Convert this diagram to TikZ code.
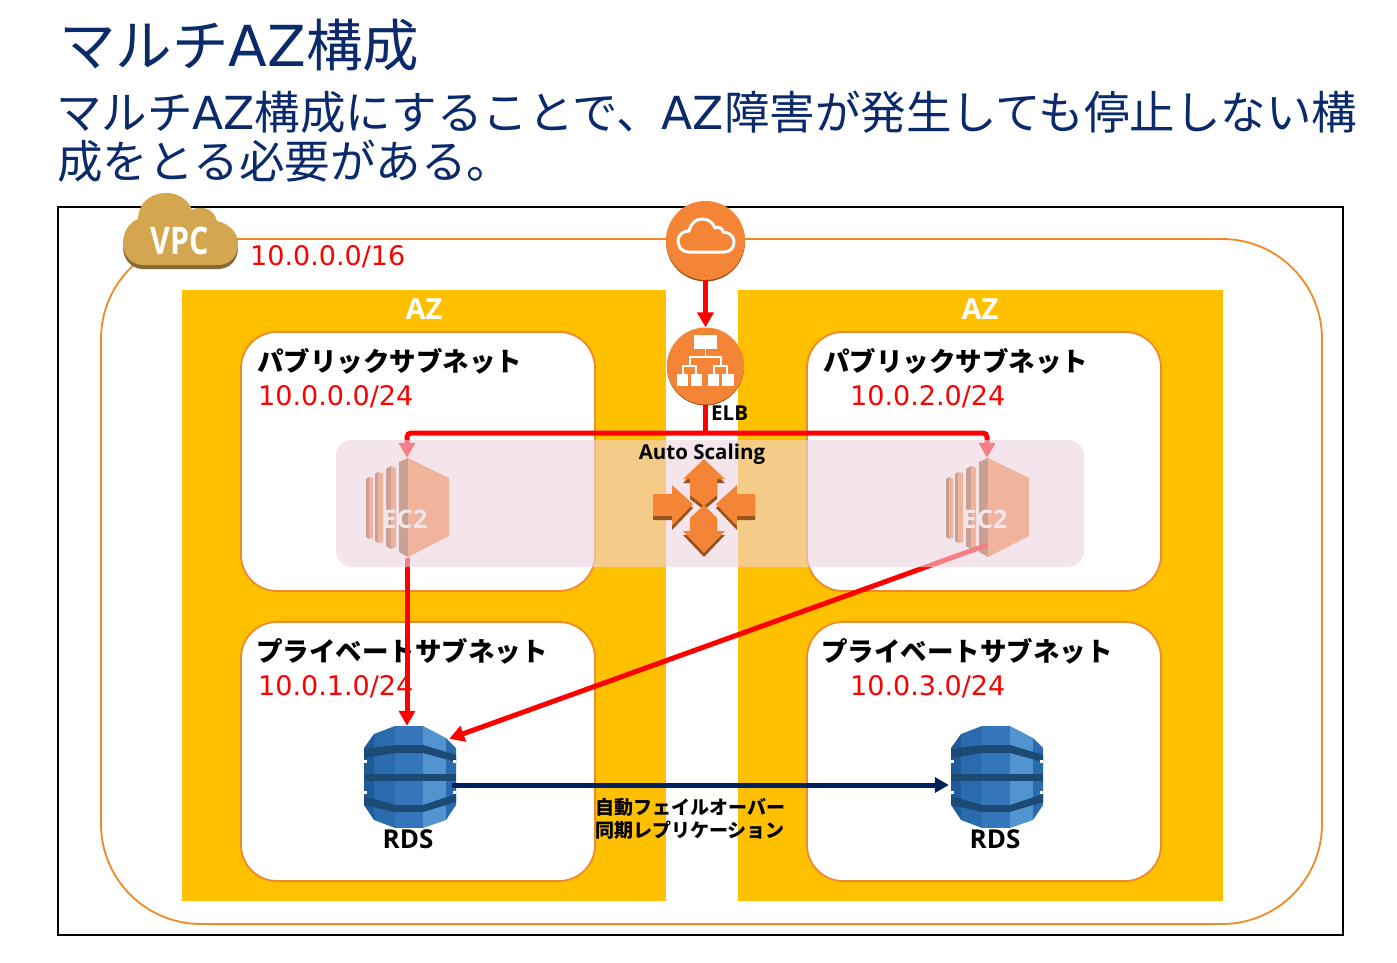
\documentclass[tikz,border=0pt]{standalone}
\usepackage{fontspec}
\setmainfont{Noto Sans CJK JP}
\newfontfamily\latinf{DejaVu Sans}
\newfontfamily\boldf{Open Sans}
\usepackage{tikz}
\usetikzlibrary{calc,arrows.meta}

\definecolor{navy}{HTML}{0B2A6B}
\definecolor{replnavy}{HTML}{002060}
\definecolor{azyellow}{HTML}{FFC000}
\definecolor{vpcline}{HTML}{F08A24}
\definecolor{subline}{HTML}{EE8A2E}
\definecolor{awsorange}{HTML}{F58536}
\definecolor{awsdark}{HTML}{93521E}
\definecolor{asgpink}{RGB}{237,212,225}
\definecolor{vpcgold}{HTML}{D4A64F}
\definecolor{vpcdark}{HTML}{876A38}
\definecolor{rdsa}{HTML}{1F5B98}
\definecolor{rdsb}{HTML}{2A6BAE}
\definecolor{rdsc}{HTML}{3576BB}
\definecolor{rdsd}{HTML}{5294CF}
\definecolor{rdsband}{HTML}{1B4A74}

\tikzset{
  textlabel/.style={inner sep=0pt,anchor=base west},
  redaddr/.style={textlabel,text=red,font=\fontsize{27}{27}\selectfont\latinf},
  subname/.style={textlabel,font=\fontsize{26.5}{26.5}\selectfont\bfseries},
  azname/.style={inner sep=0pt,text=white,font=\fontsize{29}{29}\selectfont\boldf\bfseries},
  iconname/.style={inner sep=0pt,font=\fontsize{26}{26}\selectfont\boldf\bfseries},
  smallname/.style={inner sep=0pt,font=\fontsize{20.5}{20.5}\selectfont\boldf\bfseries},
  subnet/.style={draw=subline,line width=1.8pt,fill=white,rounded corners=36pt},
  iconbox/.style={inner sep=0pt,minimum width=90pt,minimum height=102pt},
  ecbox/.style={inner sep=0pt,minimum width=84pt,minimum height=100pt},
  roundicon/.style={circle,inner sep=0pt,fill=awsorange},
  redline/.style={draw=red,line width=5pt},
  redarrow/.style={redline,-{Triangle[length=15pt,width=16pt]}},
  replarrow/.style={draw=replnavy,line width=5pt,-{Triangle[length=14pt,width=15pt]}},
}

% EC2 icon, #1 = shift in x
\newcommand{\ecicon}[1]{
  \begin{scope}[shift={(#1,0)}]
    \fill[awsdark] (366,479) -- (369,477) -- (369,539) -- (366,537) -- cycle;
    \fill[awsorange] (369,477) -- (373,478) -- (373,538) -- (369,539) -- cycle;
    \fill[awsdark] (375,474) -- (378,472) -- (378,543) -- (375,541) -- cycle;
    \fill[awsorange] (378,472) -- (383,473) -- (383,542) -- (378,543) -- cycle;
    \fill[awsdark] (386,469) -- (391,466) -- (391,549) -- (386,546) -- cycle;
    \fill[awsorange] (391,466) -- (396,468) -- (396,547) -- (391,549) -- cycle;
    \fill[awsdark] (399,462) -- (408,458) -- (408,557) -- (399,552) -- cycle;
    \fill[awsorange] (408,458) -- (449,478) -- (449,536) -- (408,557) -- cycle;
  \end{scope}
}

% RDS icon, #1 = shift in x
\newcommand{\rdsicon}[1]{
  \begin{scope}[shift={(#1,0)}]
    \fill[rdsa] (364,748) -- (374,734) -- (374,820) -- (364,805) -- cycle;
    \fill[rdsb] (374,734) -- (395,726) -- (395,828) -- (374,820) -- cycle;
    \fill[rdsc] (395,726) -- (423,726) -- (423,828) -- (395,828) -- cycle;
    \fill[rdsd] (423,726) -- (446,738) -- (446,820) -- (423,828) -- cycle;
    \fill[rdsb] (446,738) -- (456,748) -- (456,805) -- (446,820) -- cycle;
    % Bands
    \fill[rdsband] (364,749) -- (395,745) -- (423,745) -- (456,755) -- (456,762) -- (423,753) -- (395,753) -- (364,758) -- cycle;
    \fill[rdsband] (364,774) -- (456,774) -- (456,781) -- (364,781) -- cycle;
    \fill[rdsband] (364,796) -- (395,805) -- (423,805) -- (456,794) -- (456,802) -- (423,812) -- (395,812) -- (364,805) -- cycle;
    \fill[white] (364,760) rectangle (367,763);
    \fill[white] (453,760) rectangle (456,763);
    \fill[white] (364,791) rectangle (367,794);
    \fill[white] (453,791) rectangle (456,794);
  \end{scope}
}

\begin{document}
\begin{tikzpicture}[x=1pt,y=-1pt]
  \useasboundingbox (0,0) rectangle (1397,963);
  \fill[white] (0,0) rectangle (1397,963);

  % Titles
  \node[textlabel,text=navy,font=\fontsize{56.5}{56.5}\selectfont] (title) at (59,67) {マルチ{\latinf AZ}構成};
  \node[textlabel,text=navy,font=\fontsize{45.5}{45.5}\selectfont] (lineone) at (56,129) {マルチ{\latinf AZ}構成にすることで、{\latinf AZ}障害が発生しても停止しない構};
  \node[textlabel,text=navy,font=\fontsize{45.5}{45.5}\selectfont] (linetwo) at (57,178) {成をとる必要がある。};

  % Frames
  \draw[black,line width=1.6pt] (58,207) rectangle (1343,935);
  \draw[vpcline,line width=1.8pt,fill=white,rounded corners=100pt] (101,239) rectangle (1322,924);

  % AZs
  \fill[azyellow] (182,290) rectangle (666,901);
  \fill[azyellow] (738,290) rectangle (1223,901);
  \node[azname] (azleft) at (424,309) {AZ};
  \node[azname] (azright) at (980,309) {AZ};

  % Subnets
  \draw[subnet] (241,332) rectangle (595,591);
  \draw[subnet] (807,332) rectangle (1161,591);
  \draw[subnet] (241,622) rectangle (595,881);
  \draw[subnet] (807,622) rectangle (1161,881);
  \node[subname] (puba) at (257,371) {パブリックサブネット};
  \node[subname] (pubb) at (823,371) {パブリックサブネット};
  \node[subname] (pria) at (256,661) {プライベートサブネット};
  \node[subname] (prib) at (821,661) {プライベートサブネット};
  \node[redaddr] (addrvpc) at (250,265) {10.0.0.0/16};
  \node[redaddr] (addrpuba) at (258,405) {10.0.0.0/24};
  \node[redaddr] (addrpubb) at (850,405) {10.0.2.0/24};
  \node[redaddr] (addrpria) at (258,695) {10.0.1.0/24};
  \node[redaddr] (addrprib) at (850,695) {10.0.3.0/24};

  % VPC cloud
  \fill[vpcdark] (143,269) .. controls (131,269) and (123,259) .. (123,247) -- (238,248) .. controls (238,260) and (230,269) .. (218,269) -- cycle;
  \fill[vpcgold] (143,265) .. controls (131,265) and (123,255) .. (123,243) .. controls (123,231) and (130,222) .. (138,219) .. controls (138,204) and (150,193) .. (166,193) .. controls (178,193) and (188,199) .. (192,210) .. controls (200,205) and (214,208) .. (217,221) .. controls (230,224) and (238,233) .. (238,244) .. controls (238,256) and (230,265) .. (218,265) -- cycle;
  \node[inner sep=0pt,text=white,xscale=0.8,font=\fontsize{38}{38}\selectfont\boldf\bfseries] (vpc) at (180,241) {VPC};

  % Internet gateway
  \fill[awsdark] (705.5,242) circle (39.5);
  \node[roundicon,minimum size=79pt] (igw) at (705.5,240.5) {};
  \draw[white,line width=3pt,line join=round] (689,252) .. controls (681,252) and (678,246) .. (678,241) .. controls (678,235) and (683,231) .. (689,231) .. controls (691,223) and (696,219) .. (702,219) .. controls (709,219) and (713,223) .. (715,228) .. controls (719,226) and (723,229) .. (723,232) .. controls (729,232) and (734,236) .. (734,242) .. controls (734,248) and (730,252) .. (724,252) -- cycle;

  % ELB
  \fill[awsdark] (705.5,367) circle (38.5);
  \node[roundicon,minimum size=77pt] (elb) at (705.5,366) {};
  \fill[white] (694,335) rectangle (717,349);
  \fill[white] (677,374) rectangle (688,386);
  \fill[white] (691,374) rectangle (702,386);
  \fill[white] (708,374) rectangle (719,386);
  \fill[white] (722,374) rectangle (734,386);
  \draw[white,line width=1.6pt] (705.5,349) -- (705.5,357);
  \draw[white,line width=1.6pt] (690,366) -- (690,357) -- (721,357) -- (721,366);
  \draw[white,line width=1.6pt] (683,374) -- (683,366) -- (696,366) -- (696,374);
  \draw[white,line width=1.6pt] (714,374) -- (714,366) -- (727,366) -- (727,374);
  \node[smallname,anchor=base west] (elbname) at (711,420) {ELB};

  % EC2
  \ecicon{0}
  \ecicon{580}
  \node[ecbox] (ec2a) at (407,508) {};
  \node[ecbox] (ec2b) at (987,508) {};
  \node[iconname,text=white,font=\fontsize{25.5}{25.5}\selectfont\boldf\bfseries] (ec2aname) at ($(ec2a)+(-2,11)$) {EC2};
  \node[iconname,text=white,font=\fontsize{25.5}{25.5}\selectfont\boldf\bfseries] (ec2bname) at ($(ec2b)+(-2,11)$) {EC2};

  % RDS
  \rdsicon{0}
  \rdsicon{587}
  \node[iconbox] (rdsa) at (407,777) {};
  \node[iconbox] (rdsb) at (994,777) {};
  \node[iconname] (rdsaname) at (408,839) {RDS};
  \node[iconname] (rdsbname) at (995,839) {RDS};

  % Traffic
  \coordinate (fan) at (705.5,433);
  \draw[redarrow] (igw.south) -- (elb.north);
  \draw[redline] (elb.south) -- (fan);
  \draw[redarrow,rounded corners=4pt] (fan) -| (ec2a.north);
  \draw[redarrow,rounded corners=4pt] (fan) -| (ec2b.north);
  \draw[redarrow] (ec2a.south) -- (rdsa.north);
  \draw[redarrow] ($(ec2b)+(0,37)$) -- ($(rdsa.north east)+(-3,13)$);

  % Auto Scaling group
  \fill[asgpink,opacity=0.6,rounded corners=16pt] (336,440) rectangle (1084,567);

  % Auto Scaling icon
  \begin{scope}[yshift=-4pt]
    \fill[awsdark] (704,459) -- (725,479) -- (717,479) -- (717,495) -- (704,506) -- (690,495) -- (690,479) -- (683,479) -- cycle;
    \fill[awsdark] (704,505) -- (717,518) -- (717,531) -- (725,531) -- (704,553) -- (683,531) -- (690,531) -- (690,518) -- cycle;
    \fill[awsdark] (653,494) -- (672,494) -- (672,485) -- (693,504) -- (672,526) -- (672,516) -- (653,516) -- cycle;
    \fill[awsdark] (755,494) -- (737,494) -- (737,485) -- (716,504) -- (737,526) -- (737,516) -- (755,516) -- cycle;
  \end{scope}
  \fill[awsorange] (704,459) -- (725,479) -- (717,479) -- (717,495) -- (704,506) -- (690,495) -- (690,479) -- (683,479) -- cycle;
  \fill[awsorange] (704,505) -- (717,518) -- (717,531) -- (725,531) -- (704,553) -- (683,531) -- (690,531) -- (690,518) -- cycle;
  \fill[awsorange] (653,494) -- (672,494) -- (672,485) -- (693,504) -- (672,526) -- (672,516) -- (653,516) -- cycle;
  \fill[awsorange] (755,494) -- (737,494) -- (737,485) -- (716,504) -- (737,526) -- (737,516) -- (755,516) -- cycle;
  \node[smallname] (asname) at (702,454) {Auto Scaling};

  % Replication
  \draw[replarrow] ([yshift=-8pt]rdsa.east) -- ([yshift=-8pt]rdsb.west);
  \node[textlabel,font=\fontsize{19}{19}\selectfont\bfseries] (replone) at (595,814) {自動フェイルオーバー};
  \node[textlabel,font=\fontsize{19}{19}\selectfont\bfseries] (repltwo) at (595,837) {同期レプリケーション};
\end{tikzpicture}
\end{document}
